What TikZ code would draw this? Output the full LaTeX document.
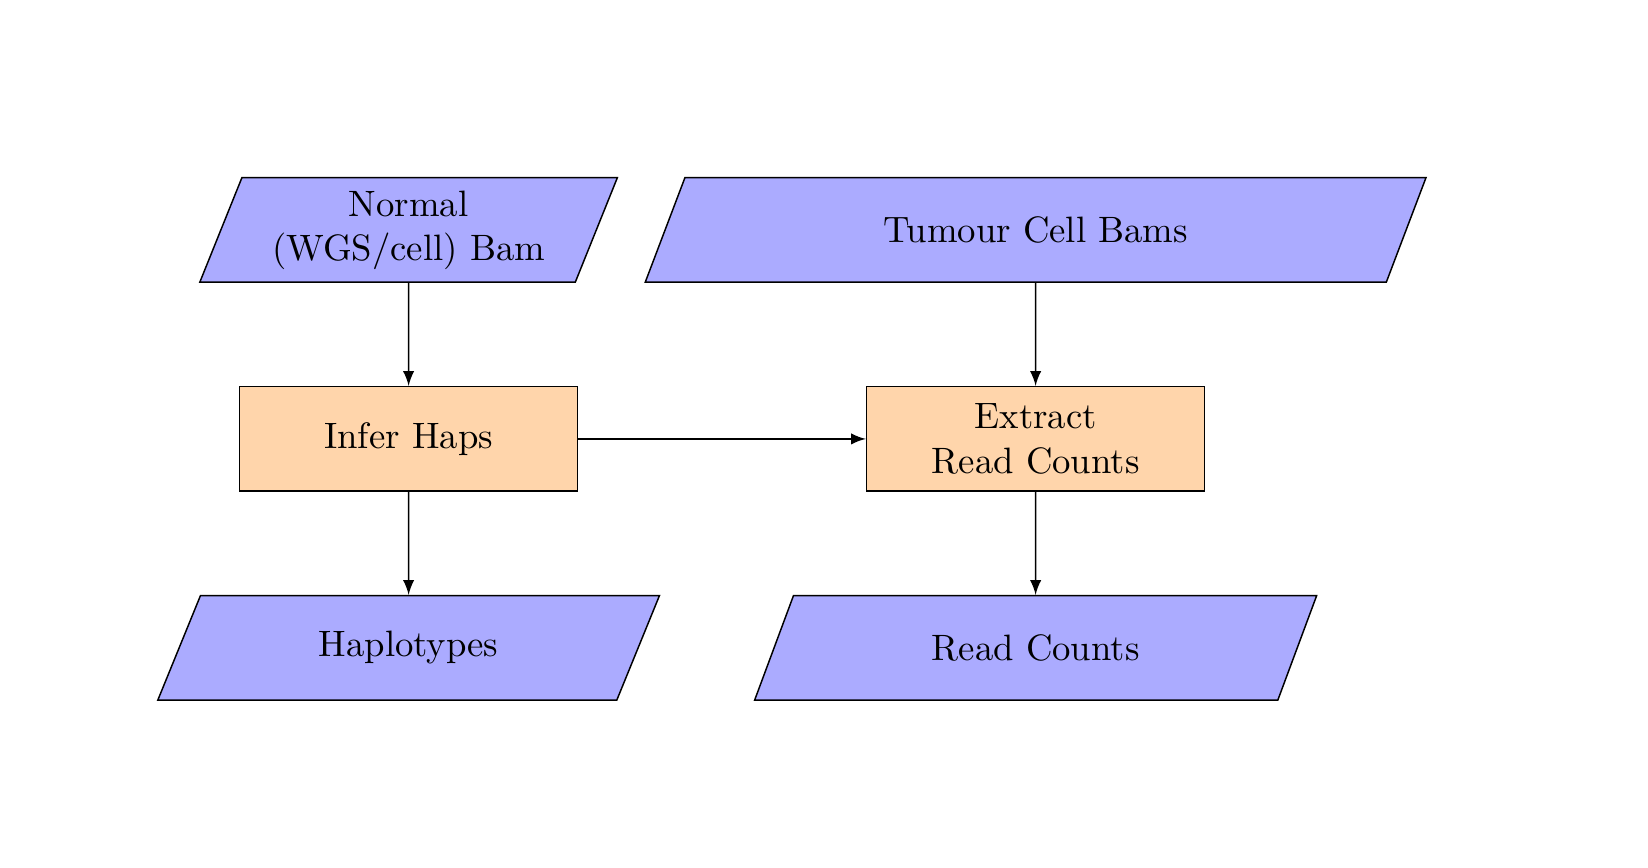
\documentclass[tikz,border=0pt]{standalone}
\usepackage{amsmath}
\usepackage{tikz}
\usetikzlibrary{shapes.geometric}

\tikzset{io/.style={trapezium, trapezium left angle=70, trapezium right angle=110, trapezium stretches=true, minimum width=3cm, minimum height=1cm, align=center, draw=black, fill=blue!33},
process/.style={rectangle, minimum width=3cm, minimum height=1cm, text width=3cm, align=center, draw=black, fill=orange!33},
arrow/.style={-latex}}

\begin{document}
\begin{tikzpicture}
\useasboundingbox (-3.91,-4.105) rectangle (11.86,4.20);
\node[io,minimum width=4cm] (normal) at (0,2) {Normal\\(WGS/cell) Bam};
\node[io,minimum width=7.49cm] (tumour) at (6,2) {Tumour Cell Bams};
\node[process] (infer) at (0,0) {Infer Haps};
\node[process] (extract) at (6,0) {Extract\\Read Counts};
\node[io,minimum width=4.81cm] (haps) at (0,-2) {Haplotypes};
\node[io,minimum width=5.39cm] (counts) at (6,-2) {Read Counts};
\draw[arrow] (normal)--(infer);
\draw[arrow] (tumour)--(extract);
\draw[arrow] (infer)--(extract);
\draw[arrow] (infer)--(haps);
\draw[arrow] (extract)--(counts);
\end{tikzpicture}
\end{document}
